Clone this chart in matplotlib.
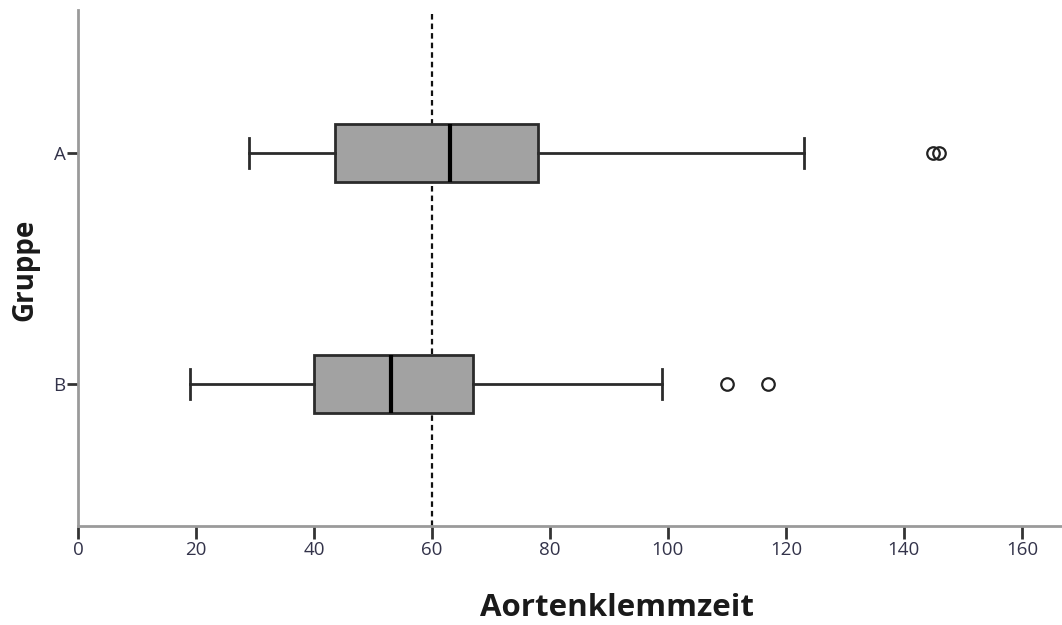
import matplotlib.pyplot as plt

groups = ['A', 'B']
whisker_lo = [29, 19]
q1 = [43.5, 40]
median = [63, 53]
q3 = [78, 67]
whisker_hi = [123, 99]
outliers = [[145, 146], [110, 117]]
ref_line = 60
xticks = [0, 20, 40, 60, 80, 100, 120, 140, 160]

plt.rcParams['font.family'] = ['Open Sans', 'DejaVu Sans']

stats = []
for i, g in enumerate(groups):
    stats.append(dict(label=g, whislo=whisker_lo[i], q1=q1[i], med=median[i],
                      q3=q3[i], whishi=whisker_hi[i], fliers=outliers[i]))

fig = plt.figure(figsize=(10.62, 6.25), dpi=100)
ax = fig.add_axes([0.0734, 0.1584, 0.9266, 0.8256])

edge = '#2b2b2b'
ax.bxp(stats, positions=[1, 2], vert=False, widths=0.25, patch_artist=True,
       showcaps=True,
       boxprops=dict(facecolor='#a2a2a2', edgecolor=edge, linewidth=2),
       medianprops=dict(color='black', linewidth=3),
       whiskerprops=dict(color=edge, linewidth=2),
       capprops=dict(color=edge, linewidth=2),
       capwidths=0.13,
       flierprops=dict(marker='o', markerfacecolor='none', markeredgecolor='#222222',
                       markersize=9, markeredgewidth=1.6))

ax.axvline(ref_line, color='#111111', linestyle=(0, (2.5, 1.8)), linewidth=1.6, zorder=0.5)

ax.set_xlim(0, 166.8)
ax.set_ylim(2.615, 0.38)
ax.set_yticks([1, 2])
ax.set_yticklabels(groups)
ax.set_xticks(xticks)

for s in ['top', 'right']:
    ax.spines[s].set_visible(False)
for s in ['left', 'bottom']:
    ax.spines[s].set_color('#9a9a9a')
    ax.spines[s].set_linewidth(2)

ax.tick_params(axis='both', direction='out', length=9, width=2, color='#333333',
               labelcolor='#33334a', labelsize=13.5, pad=2)
ax.tick_params(axis='y', length=8, pad=1)

fig.text(617 / 1062, 1 - 608 / 625, 'Aortenklemmzeit', ha='center', va='center',
         fontsize=22.5, fontweight='bold', color='#1a1a1a')
fig.text(25 / 1062, 1 - 270 / 625, 'Gruppe', ha='center', va='center', rotation=90,
         fontsize=20, fontweight='bold', color='#1a1a1a')

fig.savefig('out.png', dpi=100)
